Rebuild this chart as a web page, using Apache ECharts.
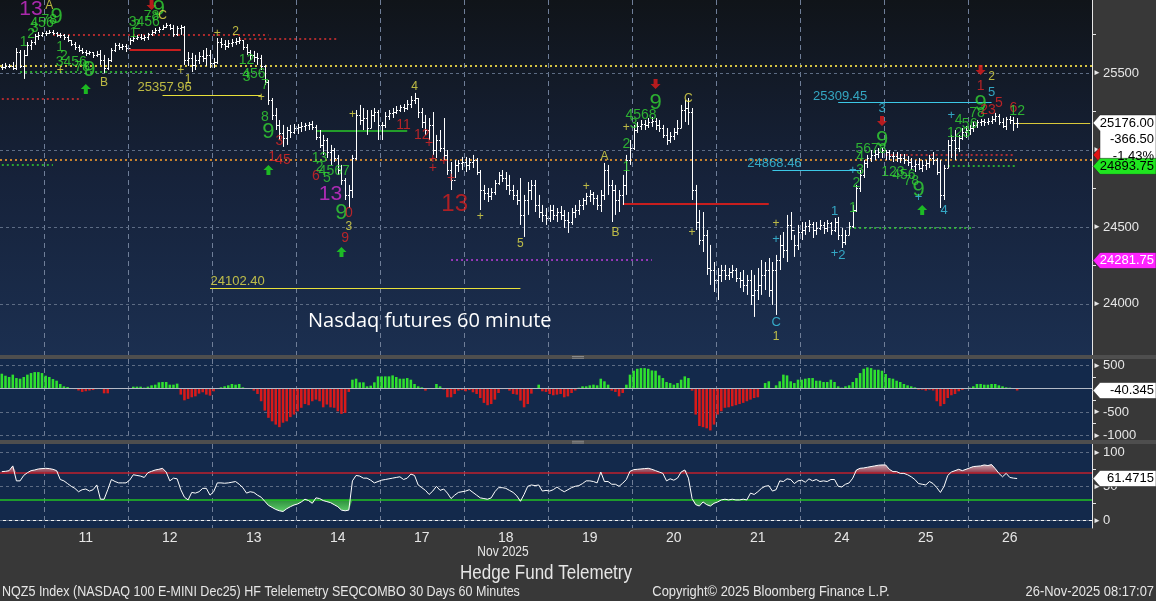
<!DOCTYPE html>
<html><head><meta charset="utf-8">
<script src="https://cdn.jsdelivr.net/npm/echarts@6.0.0/dist/echarts.min.js"></script>
<style>html,body{margin:0;padding:0;background:#383838;}#c{width:1156px;height:601px;}</style>
</head><body><div id="c"></div><script>
// ---------------- DATA ----------------
const days = ['10','11','12','13','14','17','18','19','20','21','24','25','26'];
const barsPerDay = [12,23,23,23,23,23,23,23,23,23,23,23,14];
const emptySlots = 20;

const highs = [
25559,25566,25559,25572,25663,25650,25650,25702,25715,25754,25767,25767,
25774,25780,25780,25767,25761,25754,25748,25715,25702,25683,25663,25650,25644,25637,25644,25650,25618,25598,25663,25696,25696,25689,25689,
25728,25741,25748,25754,25748,25761,25780,25793,25800,25813,25826,25819,25813,25806,25813,25806,25637,25631,25618,25637,25650,25663,25650,
25598,25728,25728,25715,25715,25722,25728,25735,25715,25689,25650,25644,25631,25618,25553,25455,25338,25273,25195,25163,25150,25163,25169,
25169,25182,25176,25182,25189,25163,25130,25098,25078,25033,25013,24968,24903,24818,24773,24968,25260,25293,25273,25260,25260,25273,25260,
25182,25247,25260,25273,25286,25293,25299,25325,25351,25371,25338,25273,25228,25208,25247,25098,25130,25208,25000,24922,24935,24935,24955,
24955,24948,24968,24948,24870,24773,24753,24753,24805,24857,24870,24857,24838,24773,24740,24818,24708,24792,24805,24805,24708,24643,24623,
24643,24643,24623,24636,24610,24597,24623,24643,24675,24688,24721,24740,24727,24708,24740,24916,24903,24805,24773,24740,24838,24968,25065,
25163,25182,25195,25195,25208,25215,25208,25195,25163,25143,25117,25143,25195,25293,25325,25338,25273,24773,24610,24597,24480,24383,24272,
24233,24253,24253,24233,24253,24233,24207,24220,24188,24220,24188,24233,24285,24272,24298,24272,24318,24448,24467,24578,24597,24448,24513,
24532,24532,24545,24532,24532,24545,24532,24545,24532,24558,24565,24493,24480,24532,24643,24773,24870,24935,24968,25000,25000,25013,25013,
25000,25000,24987,24987,24974,24974,24961,24948,24935,24948,24935,24935,24968,24987,24948,24935,24903,25065,25098,25130,25098,25143,25156,
25163,25182,25195,25202,25202,25208,25221,25241,25234,25208,25215,25221,25215,25208
];
const lows = [
25520,25527,25533,25520,25520,25533,25462,25611,25650,25683,25715,25735,
25741,25754,25748,25735,25728,25715,25702,25676,25650,25637,25624,25611,25618,25598,25605,25553,25501,25520,25572,25637,25650,25650,25637,
25683,25702,25715,25715,25709,25715,25741,25754,25761,25780,25793,25780,25735,25741,25748,25553,25546,25507,25520,25559,25572,25546,25533,
25533,25559,25663,25650,25663,25670,25683,25689,25650,25618,25585,25572,25553,25520,25423,25293,25195,25130,25065,25020,25033,25078,25104,
25104,25117,25124,25130,25130,25065,25013,24968,24948,24903,24922,24838,24773,24675,24623,24688,24935,25163,25130,25098,25143,25182,25065,
25065,25143,25195,25208,25234,25247,25247,25260,25273,25299,25208,25143,25098,25065,24968,24948,24987,24935,24838,24740,24818,24857,24870,
24857,24870,24883,24838,24610,24675,24662,24675,24708,24773,24792,24740,24708,24675,24643,24513,24435,24578,24675,24597,24558,24532,24513,
24532,24545,24532,24545,24493,24461,24513,24558,24578,24610,24643,24662,24643,24610,24597,24675,24708,24532,24578,24597,24643,24708,24903,
25000,25111,25130,25130,25143,25150,25130,25117,25078,25033,25046,25065,25098,25143,25182,25163,24675,24480,24383,24337,24188,24123,24077,
24025,24142,24155,24155,24168,24142,24103,24077,24058,23993,23915,24025,24058,24090,24045,23993,23928,24220,24298,24272,24415,24305,24350,
24415,24448,24467,24428,24448,24480,24454,24467,24448,24467,24415,24363,24383,24448,24493,24597,24727,24818,24883,24922,24935,24948,24948,
24935,24935,24922,24922,24916,24909,24896,24870,24857,24870,24857,24870,24883,24903,24838,24623,24675,24883,24948,24935,24987,25065,25078,
25098,25117,25143,25156,25156,25163,25169,25182,25163,25143,25130,25169,25124,25143
];
const closes = [
25540,25546,25546,25533,25637,25546,25618,25683,25702,25741,25748,25761,
25761,25767,25761,25748,25748,25735,25715,25689,25670,25650,25637,25631,25637,25618,25624,25585,25533,25585,25650,25683,25670,25676,25663,
25715,25728,25735,25728,25735,25754,25767,25780,25787,25800,25813,25793,25754,25793,25800,25585,25598,25553,25585,25611,25598,25618,25566,
25572,25702,25689,25676,25696,25702,25709,25715,25670,25637,25618,25605,25598,25546,25442,25325,25228,25163,25111,25078,25130,25117,25143,
25150,25156,25163,25169,25150,25085,25033,25065,24987,25000,24948,24870,24805,24708,24740,24948,25228,25195,25208,25143,25228,25247,25163,
25163,25221,25241,25247,25260,25280,25273,25299,25325,25338,25247,25182,25130,25163,25000,25065,25013,24968,24870,24805,24903,24916,24922,
24903,24922,24935,24857,24740,24721,24701,24727,24786,24838,24818,24773,24740,24708,24675,24578,24675,24740,24773,24643,24597,24578,24558,
24610,24578,24597,24578,24545,24532,24597,24610,24643,24675,24701,24714,24688,24643,24708,24870,24773,24740,24675,24708,24773,24935,25013,
25130,25156,25169,25163,25182,25189,25163,25143,25098,25065,25091,25117,25143,25260,25273,25247,24740,24532,24415,24448,24233,24220,24155,
24188,24220,24188,24207,24220,24168,24155,24123,24155,24058,24090,24123,24188,24220,24090,24220,24285,24383,24350,24513,24480,24383,24467,
24480,24506,24519,24480,24493,24513,24493,24526,24480,24532,24448,24402,24448,24506,24610,24753,24838,24916,24948,24968,24974,24987,25000,
24987,24961,24961,24948,24948,24935,24922,24896,24909,24883,24903,24916,24948,24935,24857,24708,24883,25033,25065,25013,25078,25117,25130,
25143,25163,25182,25189,25182,25189,25202,25221,25182,25156,25202,25195,25176,25176
];
const macdHist = [
320,277,250,300,227,213,250,300,334,355,355,334,277,250,206,170,100,50,36,14,
-10,-40,-70,-55,-40,-30,-10,-5,-100,-100,-10,0,0,-5,0,5,
43,43,43,21,43,71,85,135,142,142,85,85,107,
-128,-250,-220,-185,-165,-107,-78,-128,-150,-57,-10,
28,50,71,100,85,100,28,14,0,
-43,-114,-270,-470,-625,-700,-770,-825,-730,-700,-610,-555,-485,-410,-330,-355,-270,-235,-270,-400,-340,-400,-410,-485,-540,-520,-71,
192,213,135,135,50,64,135,263,263,263,263,284,250,213,213,227,192,100,50,28,-43,
0,-10,100,50,-20,-185,-185,-114,-43,-30,-57,-30,
-78,-114,-200,-305,-355,-330,-235,-93,-10,-10,
-43,-114,-128,-257,-400,-330,-107,0,85,
-57,-71,-114,-142,-128,-114,-185,-165,-93,-40,20,
50,50,71,85,71,213,157,85,
-43,-71,-165,-93,
85,300,384,426,440,440,426,390,384,284,227,142,120,85,120,192,263,227,
-43,-555,-800,-825,-850,-895,-770,-555,-485,-410,-400,-376,-355,-330,-305,-270,-235,-200,-185,
0,120,157,14,71,157,300,284,157,120,192,192,213,227,227,170,170,142,142,192,142,50,20,
50,71,142,227,334,426,455,440,405,405,384,313,227,213,170,142,100,71,50,28,
-21,-21,-43,-21,-40,-270,-376,-330,-200,-142,-114,-57,-28,-10,
20,50,100,100,85,85,100,100,71,50,28,21,14,-40.345
];
const rsi = [
71.6,72,73,80,58,58,66,70,73,74,75.5,76,76.5,76,75,73,60,58,54,50,
47,42,45,46,43,45,52,31,31,45,60,57,55,55,55,59,67,66,65,63,
70,72,74,75,76.5,71,58,62,61,45,34,30,41,40,42,47,47,37,42,55,
55,54.5,55,56,57,53,48,40,42,41,37,34,28,22,19,16,14,13,17,20,
22.5,24,27,31,29,25,33,32,29,27.5,26,23,20,15,14,15,58,66,65,62,
62,59,55,57,59,60,61,62,63,64,60,62,68,66,52,48,44,38,43,50,
44,46,40,32,37,41,42,43,45,41,37,33,32,31,33,42,48,48,47,44,
41,36,28,38,50,52,51,52,43,44,43,45,49,45,42,45,48,50,51,
54,58,58,57,55,71,57,57,53,53,50,54.5,60,72,74.5,75,75.5,76,76.5,75,
73,71,69,58,61,59,62,71,74,62,32,23,21,27,23,21,25,27,30,31,
30,31,30,30,31,30,40,38,42,47,50,51,43,45,58,57,61,60,54,58,
59,56,61,58,60,57,58,57,60,60,50,49,53,55,62,74,76.5,77,78,79,
80,81,81.4,81.4,75,71.6,71.6,69,69,67,64,60,54,53,52,57,54,48,41,50,
66,71,73,75,73,75,77,79,79.5,80,81.4,80.5,82,76,69,64,69,63,62,61.4715
];
const priceTicks = [24000, 24500, 25000, 25500];
const priceMinorTicks = [24250, 24750, 25250, 25750];
const histTicks = [500, -500, -1000];
const histMinorTicks = [250, -250, -750];
const rsiTicks = [0, 50, 100];
const rsiMinorTicks = [25, 75];
const rsiBands = [70, 30];

// level lines: [fromBar, toBar, price, kind]
const levelLines = [
  [14, 73, 25748, 'redDot'], [65, 92, 25722, 'redDot'], [0, 22, 25332, 'redDot'],
  [5, 42, 25507, 'greenDot'], [0, 14, 24903, 'greenDot'], [35, 49, 25650, 'redSolid'],
  [44, 71, 25357.96, 'yellowSolid'], [86, 111, 25124, 'greenSolid'], [57, 142, 24102.40, 'yellowSolid'],
  [123, 178, 24285, 'magentaDot'], [170, 210, 24649, 'redSolid'], [211, 235, 24868.46, 'cyanSolid'],
  [229, 271, 25309.45, 'cyanSolid'], [232, 266, 24493, 'greenDot'], [242, 277, 24968, 'redDot'],
  [259, 278, 24896, 'greenDot'], [277, 298, 25176, 'lastPx']
];
const fullLevels = [[25546, 'yellowDotFull'], [24935, 'orangeDotFull']];
const priceTags = [[36.8, 25410, '25357.96', 'y'], [57.3, 24148, '24102.40', 'y'], [204.2, 24915, '24868.46', 'c'], [222.2, 25351, '25309.45', 'c']];

// annotations: [bar, price, text, kind]
const annotations = [
 [8.1,25917,'13','m13'],[13.3,25936,'A','y'],[6.2,25702,'1','g'],[7.6,25754,'2','g'],[8.9,25793,'3','g'],
 [10.6,25826,'456','g'],[13,25845,'78','g'],[15.2,25865,'9','g9'],[15.5,25670,'1','g'],[16.9,25611,'2','g'],
 [19.3,25572,'3456','g'],[22,25540,'78','g'],[24,25520,'9','g9'],[28.3,25436,'B','y'],[16.3,25514,'+','y'],
 [49.4,25514,'+','y'],[35.5,25761,'1','g'],[36.8,25813,'2','g'],[38.5,25832,'3456','g'],[40.9,25871,'78','g'],
 [42.8,25917,'9','g9'],[44.2,25871,'C','y'],[51.3,25455,'1','y'],[59.2,25754,'+','y'],[64.4,25767,'2','y'],
 [71.3,25338,'+','y'],[66.6,25585,'12','g'],[67.2,25475,'3','g'],[69.1,25494,'456','g'],[71.6,25423,'7','g'],
 [72.4,25215,'8','g'],[73.2,25117,'9','g9'],[75.7,25059,'3','r'],[73.7,24955,'1','r'],[77.3,24935,'45','r'],
 [85.5,24831,'6','r'],[86.9,24948,'13','g'],[87.1,24890,'2','g'],[91,24864,'4567','g'],[89,24818,'5','g'],
 [90.4,24714,'13','m13'],[93.4,24590,'9','g9'],[95.3,24590,'0','r'],[94.5,24500,'3','y'],[93.7,24428,'9','r'],
 [96.4,25228,'+','y'],[112.6,25410,'4','y'],[110.4,25163,'11','r'],[114.5,25098,'12','r'],[116.7,25046,'+','r'],
 [117.8,24942,'+','r'],[118.3,24883,'+','r'],[121.3,24929,'+','r'],[122.7,24818,'+','r'],[123.8,24649,'13','r13'],
 [131.4,24565,'+','y'],[142.4,24389,'5','y'],[160.4,24760,'+','y'],[164.5,24955,'A','y'],[167.5,24461,'B','y'],
 [170.5,24890,'1','g'],[171.4,25039,'2','g'],[172.7,25169,'3','g'],[175.2,25228,'4568','g'],[178.7,25306,'9','g9'],
 [171.4,25143,'+','y'],[187.5,25332,'C','y'],[189.4,24461,'+','y'],[212.4,24519,'+','y'],[212.4,24422,'+','c'],
 [211.8,23882,'C','c'],[211.8,23785,'1','y'],[227.7,24604,'1','c'],[228.2,24331,'+','c'],[229.6,24318,'2','c'],
 [232.9,24623,'1','g'],[233.7,24786,'2','g'],[233.2,24870,'+','c'],[234.5,24870,'3','g'],[235.3,24955,'4','g'],
 [238.1,25007,'5678','g'],[240.8,25065,'9','g9'],[240.5,25273,'3','c'],[244.4,24857,'123','g'],[247.1,24838,'456','g'],
 [249.3,24799,'78','g'],[251.2,24740,'9','g9'],[250.7,24695,'+','c'],[257.8,24610,'4','c'],[259.7,25228,'+','c'],
 [261.9,25111,'123','g'],[262.4,25195,'4','g'],[264.6,25169,'56','g'],[266.5,25241,'78','g'],[267.9,25299,'9','g9'],
 [267.9,25416,'1','r'],[271.4,25475,'2','y'],[271.4,25377,'5','c'],[270.1,25260,'23','r'],[272.8,25306,'5','r'],
 [276.6,25273,'6','r'],[278,25254,'12','g']
];
const arrows = [[40.9,25943,'down'],[23.4,25396,'up'],[73.2,24870,'up'],[93.4,24337,'up'],[178.5,25429,'down'],[240.5,25189,'down'],[251.5,24610,'up'],[267.6,25520,'down']];

const lastPrice = 25176.00, lastChange = '-366.50', lastPct = '-1.43%';
const greenTag = 24893.75, magentaTag = 24281.75, redTag = 24968;
const histLast = -40.345, rsiLast = 61.4715;

// ---------------- BUILD ----------------
const FONT = "'Liberation Sans', Arial, sans-serif";
const cats = [], dayStart = new Set(), labelAt = new Set();
let k = 0;
days.forEach((d, di) => {
  if (di > 0) { dayStart.add(k); labelAt.add(k + 11); }
  for (let h = 0; h < barsPerDay[di]; h++) { cats.push(d + '-' + h); k++; }
});
for (let e = 0; e < emptySlots; e++) cats.push('x-' + e);

const ohlc = closes.map((c, i) => [i, i ? closes[i - 1] : c, c, lows[i], highs[i]]);

const lineStyles = {
  redDot: {color:'#e03232', type:[2,3], width:1.5},
  greenDot: {color:'#32d232', type:[2,3], width:1.5},
  redSolid: {color:'#c81e1e', type:'solid', width:2},
  yellowSolid: {color:'#e8e03a', type:'solid', width:1},
  greenSolid: {color:'#28c828', type:'solid', width:1.5},
  magentaDot: {color:'#c03ce0', type:[2,3], width:1.5},
  cyanSolid: {color:'#3cc8e6', type:'solid', width:1},
  lastPx: {color:'#d8c83a', type:'solid', width:1},
  yellowDotFull: {color:'#d6c443', type:[2,3], width:2},
  orangeDotFull: {color:'#c7822e', type:[2,3], width:2}
};
const kindStyle = {
  g:{color:'#33d633', size:14}, g9:{color:'#33d633', size:22}, r:{color:'#e02626', size:14},
  r13:{color:'#d41e1e', size:24}, m13:{color:'#d22ed2', size:21}, y:{color:'#e6e04a', size:12},
  c:{color:'#3cc8e6', size:13}
};
const gridDash = {color:'#5d6c84', type:[3,3], width:1};
const vDash = {color:'#6f7e98', type:[5,4], width:1};

const triFmt = v => '{t|►}' + v;
function yAx(g, min, max, labels, minor) {
  return {
    type:'value', gridIndex:g, position:'right', min, max, scale:true,
    axisLine:{show:true, lineStyle:{color:'#e6e6e6', width:1}},
    axisTick:{show:true, customValues:minor, length:4, lineStyle:{color:'#e6e6e6'}},
    axisLabel:{customValues:labels, color:'#e6e6e6', fontSize:13, fontFamily:FONT, margin:1,
      formatter:triFmt, rich:{t:{fontSize:8, color:'#e6e6e6', padding:[0,2,0,0]}}},
    splitLine:{show:false}
  };
}
function xAx(g) {
  return {
    type:'category', gridIndex:g, data:cats, boundaryGap:true,
    axisLine:{show:g === 2, lineStyle:{color:'#f0f0f0', width:1}},
    axisTick:{show:false},
    axisLabel:{show:g === 2, interval:(idx) => labelAt.has(idx), formatter:v => v.split('-')[0],
      color:'#e6e6e6', fontSize:14, fontFamily:FONT, margin:3, hideOverlap:false},
    splitLine:{show:true, interval:(idx) => dayStart.has(idx), lineStyle:vDash}
  };
}

const option = {
  backgroundColor:'#383838',
  animation:false,
  grid:[
    {left:-1.5, right:64, top:0, height:355, show:true, borderWidth:0,
     backgroundColor:{type:'linear', x:0, y:0, x2:0, y2:1, colorStops:[{offset:0,color:'#101419'},{offset:0.5,color:'#16223a'},{offset:1,color:'#1b2f50'}]}},
    {left:-1.5, right:64, top:359, height:81, show:true, borderWidth:0, backgroundColor:'#13294b'},
    {left:-1.5, right:64, top:444, height:84, show:true, borderWidth:0, backgroundColor:'#13294b'}
  ],
  xAxis:[xAx(0), xAx(1), xAx(2)],
  yAxis:[
    yAx(0, 23667.5, 25975, priceTicks, priceMinorTicks),
    yAx(1, -1100, 635, histTicks, histMinorTicks),
    yAx(2, -11.3, 112.2, rsiTicks, rsiMinorTicks)
  ],
  series:[
    {
      type:'scatter', xAxisIndex:0, yAxisIndex:0, data:[[0, 25546]], symbolSize:0, silent:true, z:1,
      markLine:{silent:true, symbol:['none','none'], z:1, label:{show:false}, animation:false,
        data:[
          ...priceTicks.map(v => ({yAxis:v, lineStyle:gridDash})),
          ...fullLevels.map(([v, s]) => ({yAxis:v, lineStyle:lineStyles[s]})),
          ...levelLines.map(([a, b, v, s]) => [{coord:[a, v], lineStyle:lineStyles[s]}, {coord:[b, v], lineStyle:lineStyles[s]}])
        ]}
    },
    {
      type:'custom', xAxisIndex:0, yAxisIndex:0, data:ohlc, z:3, silent:true,
      encode:{x:0, y:[1,2,3,4]},
      renderItem:(params, api) => {
        const i = api.value(0);
        const x = Math.round(api.coord([i, api.value(2)])[0]) + 0.5;
        const o = Math.round(api.coord([i, api.value(1)])[1]) + 0.5;
        const c = Math.round(api.coord([i, api.value(2)])[1]) + 0.5;
        const l = api.coord([i, api.value(3)])[1];
        const h = api.coord([i, api.value(4)])[1];
        const st = {stroke:'#ffffff', lineWidth:1};
        return {type:'group', children:[
          {type:'line', shape:{x1:x, y1:h, x2:x, y2:l}, style:st},
          {type:'line', shape:{x1:x - 1.5, y1:o, x2:x, y2:o}, style:st},
          {type:'line', shape:{x1:x, y1:c, x2:x + 1.5, y2:c}, style:st}
        ]};
      }
    },
    {
      type:'scatter', xAxisIndex:0, yAxisIndex:0, z:5, silent:true, symbolSize:1,
      itemStyle:{color:'rgba(0,0,0,0)'},
      label:{show:true, position:'inside', fontFamily:FONT},
      data:annotations.map(([i, p, t, kd]) => ({value:[i, p], label:{formatter:t, color:kindStyle[kd].color, fontSize:kindStyle[kd].size}}))
    },
    {
      type:'scatter', xAxisIndex:0, yAxisIndex:0, z:5, silent:true, symbolSize:1,
      itemStyle:{color:'rgba(0,0,0,0)'},
      label:{show:true, position:'right', distance:0, fontFamily:FONT, fontSize:13},
      data:priceTags.map(([i, p, t, kd]) => ({value:[i, p], label:{formatter:t, color:kindStyle[kd].color}}))
    },
    {
      type:'scatter', xAxisIndex:0, yAxisIndex:0, z:5, silent:true,
      symbol:'path://M5 0 L10 5 L7 5 L7 10 L3 10 L3 5 L0 5 Z', symbolSize:[10, 10],
      data:arrows.map(([i, p, d]) => ({value:[i, p], symbolRotate:d === 'down' ? 180 : 0,
        itemStyle:{color:d === 'down' ? '#e01c1c' : '#1fe01f'}}))
    },
    {
      type:'scatter', xAxisIndex:1, yAxisIndex:1, data:[[0, 0]], symbolSize:0, silent:true, z:1,
      markLine:{silent:true, symbol:['none','none'], z:1, label:{show:false}, animation:false,
        data:histTicks.map(v => ({yAxis:v, lineStyle:gridDash}))}
    },
    {
      type:'bar', xAxisIndex:1, yAxisIndex:1, barWidth:'70%', z:2, silent:true,
      data:macdHist.map(v => ({value:v, itemStyle:{color:v >= 0 ? '#2fe02f' : '#d81a1a'}}))
    },
    {
      type:'scatter', xAxisIndex:1, yAxisIndex:1, data:[[0, 0]], symbolSize:0, silent:true, z:4,
      markLine:{silent:true, symbol:['none','none'], z:4, label:{show:false}, animation:false,
        data:[{yAxis:0, lineStyle:{color:'#b4bac6', type:'solid', width:1}}]}
    },
    {
      type:'scatter', xAxisIndex:2, yAxisIndex:2, data:[[0, 50]], symbolSize:0, silent:true, z:1,
      markLine:{silent:true, symbol:['none','none'], z:1, label:{show:false}, animation:false,
        data:rsiTicks.map(v => ({yAxis:v, lineStyle:gridDash}))}
    },
    {type:'line', xAxisIndex:2, yAxisIndex:2, stack:'ob', symbol:'none', silent:true, z:2,
      lineStyle:{opacity:0}, data:rsi.map(() => rsiBands[0])},
    {type:'line', xAxisIndex:2, yAxisIndex:2, stack:'ob', symbol:'none', silent:true, z:2,
      lineStyle:{opacity:0},
      areaStyle:{opacity:1, color:{type:'linear', x:0, y:0, x2:0, y2:1, colorStops:[{offset:0,color:'#c9a6b0'},{offset:1,color:'#8a3a4c'}]}},
      data:rsi.map(v => Math.max(v, rsiBands[0]) - rsiBands[0])},
    {type:'line', xAxisIndex:2, yAxisIndex:2, stack:'os', symbol:'none', silent:true, z:2,
      lineStyle:{opacity:0}, data:rsi.map(v => Math.min(v, rsiBands[1]))},
    {type:'line', xAxisIndex:2, yAxisIndex:2, stack:'os', symbol:'none', silent:true, z:2,
      lineStyle:{opacity:0},
      areaStyle:{opacity:1, color:{type:'linear', x:0, y:0, x2:0, y2:1, colorStops:[{offset:0,color:'#2e8f3e'},{offset:1,color:'#5ccc68'}]}},
      data:rsi.map(v => rsiBands[1] - Math.min(v, rsiBands[1]))},
    {
      type:'scatter', xAxisIndex:2, yAxisIndex:2, data:[[0, 50]], symbolSize:0, silent:true, z:3,
      markLine:{silent:true, symbol:['none','none'], z:3, label:{show:false}, animation:false,
        data:[{yAxis:rsiBands[0], lineStyle:{color:'#c0202c', type:'solid', width:1.5}},
              {yAxis:rsiBands[1], lineStyle:{color:'#22c222', type:'solid', width:1.5}}]}
    },
    {type:'line', xAxisIndex:2, yAxisIndex:2, symbol:'none', silent:true, z:4,
      lineStyle:{color:'#ffffff', width:1}, data:rsi}
  ]
};

const chart = echarts.init(document.getElementById('c'));
chart.setOption(option);

// ---------------- TAGS / TEXTS ----------------
const yM = v => chart.convertToPixel({yAxisIndex:0}, v);
const yH = v => chart.convertToPixel({yAxisIndex:1}, v);
const yR = v => chart.convertToPixel({yAxisIndex:2}, v);
const G = [];
function txt(x, y, t, opt, sx) {
  G.push({type:'text', x, y, z:100, silent:true, scaleX:sx || 1, style:Object.assign({text:t, fill:'#e6e6e6',
    font:'14px ' + FONT, align:'left', textAlign:'left', verticalAlign:'middle', textVerticalAlign:'middle'}, opt || {})});
}
function tag(yc, fill, lines, color, extraBottom) {
  const top = yc - 8, bot = yc + 8 + (extraBottom || 0);
  G.push({type:'polygon', z:90, silent:true, shape:{points:[[1093, yc],[1100, top],[1156, top],[1156, bot],[1100, bot],[1100, yc + 8]]},
    style:{fill, stroke:'#222', lineWidth:0.5}});
  lines.forEach((t, j) => txt(1154, yc + j * 16.5, t, {fill:color, font:'13px ' + FONT, align:'right', textAlign:'right'}));
}
G.push({type:'rect', z:80, silent:true, shape:{x:0, y:355, width:1156, height:4}, style:{fill:'#4e4e4e'}});
G.push({type:'rect', z:80, silent:true, shape:{x:0, y:440, width:1156, height:4}, style:{fill:'#4e4e4e'}});
[356, 357.8, 440.8, 442.6].forEach(y => G.push({type:'rect', z:81, silent:true, shape:{x:572, y, width:12, height:0.8}, style:{fill:'#9a9a9a'}}));
tag(yM(redTag), '#e01414', [''], '#000');
tag(yM(lastPrice), '#ffffff', [lastPrice.toFixed(2), lastChange, lastPct], '#000', 34);
tag(yM(greenTag), '#1fe61f', [greenTag.toFixed(2)], '#000');
tag(yM(magentaTag), '#ff22ff', [magentaTag.toFixed(2)], '#ffffff');
tag(yH(histLast), '#ffffff', [String(histLast)], '#000');
tag(yR(rsiLast), '#ffffff', [String(rsiLast)], '#000');
txt(308, 321, 'Nasdaq futures 60 minute', {fill:'#ffffff', font:'20px "Open Sans", "Noto Sans", sans-serif'});
txt(503, 552, 'Nov 2025', {align:'center', textAlign:'center', font:'15px ' + FONT}, 0.8);
txt(546, 573, 'Hedge Fund Telemetry', {align:'center', textAlign:'center', font:'20px ' + FONT}, 0.85);
txt(2, 592, 'NQZ5 Index (NASDAQ 100 E-MINI Dec25) HF Telelemetry SEQCOMBO 30 Days 60 Minutes', {font:'15px ' + FONT}, 0.835);
txt(771, 592, 'Copyright\u00a9 2025 Bloomberg Finance L.P.', {align:'center', textAlign:'center', font:'15px ' + FONT}, 0.86);
txt(1154, 592, '26-Nov-2025 08:17:07', {align:'right', textAlign:'right', font:'15px ' + FONT}, 0.86);
chart.setOption({graphic:{elements:G}});
</script></body></html>
